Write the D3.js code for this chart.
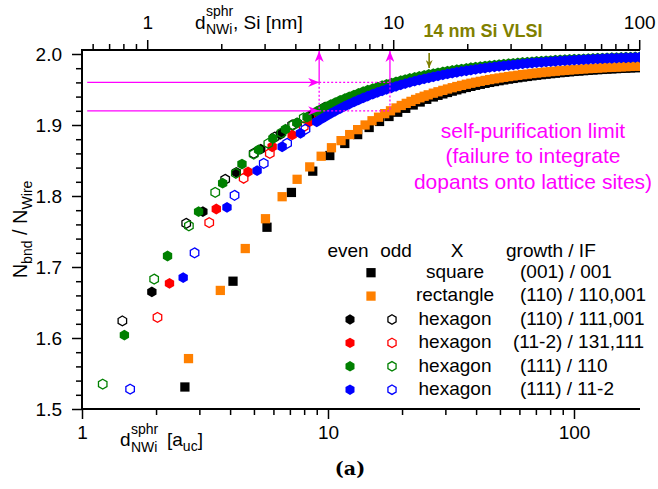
<!DOCTYPE html>
<html>
<head>
<meta charset="utf-8">
<script src="https://cdn.jsdelivr.net/npm/d3@7"></script>
<style>
  body { margin: 0; background: #fff; }
  svg { font-family: "Liberation Sans", Arial, sans-serif; }
</style>
</head>
<body>
<div id="chart"></div>
<script>
// Si lattice constant, used for the top axis (nm)
const A_UC = 0.5431

// ---- data: x = d_NWi^sphr [a_uc], y = N_bnd / N_Wire ----
// square, (001)/001, even sizes only
const squareEven = [[2.62,1.531],[4.11,1.680],[5.65,1.756],[7.10,1.805],[8.67,1.835],[10.17,1.857]]
const squareTailX = [11.7,13.2,14.7,16.2,17.7,19.2,20.7,22.2,23.7,25.2]
const squareTailY = [1.874,1.8865,1.8965,1.905,1.912,1.918,1.9235,1.9282,1.9324,1.9362]
// rectangle, (110)/110,001
const rectEven = [[2.71,1.571],[3.65,1.667],[4.61,1.726],[5.57,1.768],[6.51,1.799],[7.49,1.8235],[8.43,1.841],[9.38,1.856],[10.33,1.868]]
const rectTailX = [11.3,12.25,13.2,14.15,15.1,16.05,17.0,17.95,18.9,19.85,20.8,21.75,22.7,23.65,24.6,25.55]
const rectTailY = [1.878,1.8865,1.8935,1.9,1.906,1.911,1.916,1.92,1.924,1.9275,1.9305,1.9333,1.936,1.9383,1.9405,1.9425]

// hexagon (110)/111,001
const hexBlackEven = [[1.923,1.665],[3.10,1.778],[4.24,1.8334],[5.33,1.866],[6.41,1.887],[7.5,1.903],[8.6,1.915],[9.7,1.925]]
const hexBlackOdd = [[1.459,1.624],[2.652,1.7615],[3.82,1.8235],[4.99,1.860],[6.07,1.883],[7.15,1.900]]
// hexagon (11-2)/131,111
const hexRedEven = [[2.268,1.677],[3.515,1.7817],[4.73,1.834],[5.93,1.8694],[7.15,1.886],[8.37,1.904],[9.6,1.917],[10.8,1.926]]
const hexRedOdd = [[2.027,1.629],[3.29,1.7624],[4.54,1.825],[5.8,1.860],[7.97,1.8976],[9.2,1.913],[10.4,1.923]]
// hexagon (111)/110
const hexGreenEven = [[1.487,1.604],[2.227,1.7155],[2.978,1.778],[3.73,1.818],[4.47,1.845],[5.22,1.865],[5.97,1.881],[6.72,1.894],[7.47,1.903],[8.22,1.911]]
const hexGreenOdd = [[1.214,1.535],[1.965,1.683],[2.72,1.758],[3.48,1.805],[4.22,1.832],[4.99,1.859],[5.72,1.874],[6.47,1.889],[7.22,1.900],[7.97,1.910]]
// hexagon (111)/11-2
const hexBlueEven = [[2.578,1.685],[3.885,1.784],[5.15,1.8357],[6.51,1.8694],[7.73,1.8883]]
const hexBlueOdd = [[1.569,1.528],[2.868,1.720],[4.17,1.801],[5.48,1.846],[6.82,1.8742],[8.1,1.894]]

// dense part of the curves (markers merge into bands)
const hexTailX = [9,9.4,9.8,10.25,10.7,11.2,11.7,12.2,12.75,13.3,13.9,14.5,15.2,15.9,16.6,17.3,18.1,18.9,19.75,20.6,21.5,22.5,23.5,24.6,25.7]
const bigX = [26.8,28,29.3,30.6,32,33.4,34.9,36.5,38.1,39.8,41.6,43.5,45.4,47.5,49.6,51.8,54.2,56.6,59.1,61.8,64.6,67.5,70.5,73.7,77,80.4,84,87.8,91.8,95.9,100.2,104.7,109.4,114.3,119.5,124.8,130.5,136.3,142.5,148.9,155.6,162.6,169.9,177.5,185.5]
const greenTailY = [1.919,1.9225,1.9255,1.9285,1.9315,1.9345,1.9372,1.9397,1.9422,1.9445,1.9468,1.949,1.9513,1.9534,1.9554,1.9572,1.959,1.9608,1.9625,1.964,1.9655,1.967,1.9684,1.9698,1.9711,
  1.9723,1.9735,1.9747,1.9758,1.9768,1.9778,1.9788,1.9797,1.9806,1.9814,1.9822,1.983,1.9837,1.9844,1.9851,1.9857,1.9863,1.9869,1.9875,1.988,1.9885,1.989,1.9895,1.99,1.9904,1.9908,1.9912,1.9916,1.992,1.9923,1.9926,1.9929,1.9932,1.9935,1.9938,1.9941,1.9943,1.9946,1.9948,1.995,1.9952,1.9954,1.9956,1.9958,1.996]
const blueTailY = [1.9045,1.9085,1.9122,1.9161,1.9196,1.9232,1.9265,1.9295,1.9325,1.9353,1.9381,1.9407,1.9434,1.9459,1.9482,1.9503,1.9525,1.9545,1.9565,1.9583,1.96,1.9618,1.9634,1.965,1.9665,
  1.9679,1.9693,1.9706,1.9719,1.9731,1.9743,1.9754,1.9764,1.9774,1.9784,1.9793,1.9802,1.9811,1.9819,1.9827,1.9834,1.9841,1.9848,1.9854,1.9861,1.9867,1.9873,1.9878,1.9883,1.9888,1.9893,1.9898,1.9902,1.9906,1.991,1.9914,1.9918,1.9921,1.9925,1.9928,1.9931,1.9934,1.9937,1.994,1.9942,1.9945,1.9947,1.9949,1.9952,1.9954]
const rectBigY = [1.9448,1.9468,1.9488,1.9507,1.9525,1.9542,1.9558,1.9574,1.9588,1.9602,1.9615,1.9628,1.964,1.9651,1.9662,1.9672,1.9682,1.9691,1.97,1.9709,1.9717,1.9725,1.9732,1.9739,1.9746,1.9752,1.9758,1.9764,1.977,1.9775,1.978,1.9785,1.979,1.9794,1.9798,1.9802,1.9806,1.981,1.9813,1.9816,1.9819,1.9822,1.9825,1.9828,1.983]
const squareBigY = [1.9395,1.9418,1.9438,1.9458,1.9477,1.9495,1.9512,1.9529,1.9544,1.9559,1.9573,1.9587,1.96,1.9612,1.9624,1.9635,1.9646,1.9656,1.9666,1.9675,1.9684,1.9693,1.9701,1.9709,1.9716,1.9723,1.973,1.9737,1.9743,1.9749,1.9755,1.976,1.9765,1.977,1.9775,1.9779,1.9783,1.9787,1.9791,1.9794,1.9798,1.9801,1.9804,1.9807,1.981]

// legend texts
const shapeNames = ["square", "rectangle", "hexagon", "hexagon", "hexagon", "hexagon"]
const growthLabels = ["(001) / 001", "(110) / 110,001", "(110) / 111,001", "(11-2) / 131,111", "(111) / 110", "(111) / 11-2"]
const seriesColors = ["#000000", "#ff8000", "#000000", "#ff0000", "#008000", "#0000ff"]

// ticks
const yTicks = [1.5, 1.6, 1.7, 1.8, 1.9, 2.0]
const xTicks = [1, 10, 100]
const topTicks = [1, 10, 100]

// annotation values
const guideY = [1.96, 1.92]       // ratio levels
const guideNm = [5, 9.7]          // diameters in nm
const vlsiNm = 14
const noteLines = ["self-purification limit", "(failure to integrate", "dopants onto lattice sites)"]

// ---- chart ----
const width = 658
const height = 489
const pL = 82, pR = 640, pT = 50, pB = 409

const svg = d3.select("#chart")
    .append("svg")
    .attr("width", width)
    .attr("height", height)

const x = d3.scaleLog().domain([1, 185.5]).range([pL, pR])
const xTop = d3.scaleLog().domain([A_UC, 185.5 * A_UC]).range([pL, pR])
const y = d3.scaleLinear().domain([1.5, 2.0]).range([pB, 54])

const zip = (xs, ys) => xs.map((v, i) => [v, ys[i]])

function minorLog(domain) {
  let out = []
  for (let e = -1; e < 3; e++) {
    for (let k = 2; k < 10; k++) {
      let v = k * Math.pow(10, e)
      if (v >= domain[0] && v <= domain[1]) out.push(v)
    }
  }
  return out
}

const defs = svg.append("defs")
defs.append("clipPath").attr("id", "plotclip")
  .append("rect").attr("x", pL).attr("y", pT).attr("width", pR - pL).attr("height", pB - pT)

function arrowMarker(id, color, len, wid) {
  defs.append("marker")
    .attr("id", id)
    .attr("markerUnits", "userSpaceOnUse")
    .attr("markerWidth", len).attr("markerHeight", wid)
    .attr("refX", len).attr("refY", wid / 2)
    .attr("orient", "auto")
    .append("path")
    .attr("d", `M0,0 L${len},${wid / 2} L0,${wid} L${len * 0.3},${wid / 2} Z`)
    .attr("fill", color)
}
arrowMarker("arrM", "#ff00ff", 11, 9)
arrowMarker("arrO", "#808000", 8, 7)

// ---- series ----
const hexPath = r => {
  let p = []
  for (let k = 0; k < 6; k++) {
    let a = Math.PI / 3 * k - Math.PI / 2
    p.push([r * Math.cos(a), r * Math.sin(a)])
  }
  return "M" + p.map(q => q.join(",")).join("L") + "Z"
}
const squarePath = d3.symbol(d3.symbolSquare, 86)()

const plot = svg.append("g").attr("clip-path", "url(#plotclip)")

function drawSeries(pts, shape, color, filled) {
  plot.append("g")
    .selectAll("path")
    .data(pts)
    .join("path")
    .attr("transform", d => `translate(${x(d[0])},${y(d[1])})`)
    .attr("d", shape == "square" ? squarePath : hexPath(filled ? 5.4 : 4.9))
    .attr("fill", filled ? color : "none")
    .attr("stroke", filled ? "none" : color)
    .attr("stroke-width", 1.3)
}

drawSeries(squareEven.concat(zip(squareTailX, squareTailY), zip(bigX, squareBigY)), "square", seriesColors[0], true)
drawSeries(rectEven.concat(zip(rectTailX, rectTailY), zip(bigX, rectBigY)), "square", seriesColors[1], true)
drawSeries(hexBlackEven, "hex", seriesColors[2], true)
drawSeries(hexBlackOdd, "hex", seriesColors[2], false)
drawSeries(hexRedEven, "hex", seriesColors[3], true)
drawSeries(hexRedOdd, "hex", seriesColors[3], false)
drawSeries(hexGreenEven.concat(zip(hexTailX.concat(bigX), greenTailY)), "hex", seriesColors[4], true)
drawSeries(hexGreenOdd, "hex", seriesColors[4], false)
drawSeries(hexBlueEven.concat(zip(hexTailX.concat(bigX), blueTailY)), "hex", seriesColors[5], true)
drawSeries(hexBlueOdd, "hex", seriesColors[5], false)

// ---- axes ----
const fontSize = 19

const gBottom = svg.append("g").attr("transform", `translate(0,${pB})`)
gBottom.call(d3.axisBottom(x).tickValues(minorLog(x.domain())).tickFormat("").tickSize(6))
gBottom.call(g => g.select(".domain").remove())
const gBottomMaj = svg.append("g").attr("transform", `translate(0,${pB})`)
gBottomMaj.call(d3.axisBottom(x).tickValues(xTicks).tickFormat(d3.format("d")).tickSize(10).tickPadding(7))
gBottomMaj.call(g => g.select(".domain").remove())

const gTop = svg.append("g").attr("transform", `translate(0,${pT})`)
gTop.call(d3.axisTop(xTop).tickValues(minorLog(xTop.domain())).tickFormat("").tickSize(6))
gTop.call(g => g.select(".domain").remove())
const gTopMaj = svg.append("g").attr("transform", `translate(0,${pT})`)
gTopMaj.call(d3.axisTop(xTop).tickValues(topTicks).tickFormat(d3.format("d")).tickSize(10).tickPadding(11))
gTopMaj.call(g => g.select(".domain").remove())

const yMinor = d3.range(1.52, 2.0, 0.02).filter(v => Math.abs(v * 10 - Math.round(v * 10)) > 1e-6)
const gLeft = svg.append("g").attr("transform", `translate(${pL},0)`)
gLeft.call(d3.axisLeft(y).tickValues(yMinor).tickFormat("").tickSize(6))
gLeft.call(g => g.select(".domain").remove())
const gLeftMaj = svg.append("g").attr("transform", `translate(${pL},0)`)
gLeftMaj.call(d3.axisLeft(y).tickValues(yTicks).tickFormat(d3.format(".1f")).tickSize(10).tickPadding(10))
gLeftMaj.call(g => g.select(".domain").remove())

svg.selectAll(".tick line").attr("stroke", "#000").attr("stroke-width", 1.5)
svg.selectAll(".tick text").attr("fill", "#000").style("font-size", fontSize + "px")
  .style("font-family", '"Liberation Sans", Arial, sans-serif')

// frame lines (left, bottom, top)
svg.append("path")
  .attr("d", `M${pR},${pT} H${pL} V${pB} H${pR}`)
  .attr("fill", "none")
  .attr("stroke", "#000")
  .attr("stroke-width", 2)

// ---- axis titles ----
function txt(xp, yp, s, size, opts = {}) {
  return svg.append("text")
    .attr("x", xp).attr("y", yp)
    .attr("font-size", size)
    .attr("fill", opts.fill || "#000")
    .attr("text-anchor", opts.anchor || "start")
    .attr("font-weight", opts.weight || "normal")
    .text(s)
}

// top: d_NWi^sphr, Si [nm]
txt(195, 28.5, "d", fontSize)
txt(206, 16, "sphr", 14)
txt(206, 33.5, "NWi", 14)
txt(233, 28.5, ", Si [nm]", fontSize)

// bottom: d_NWi^sphr [a_uc]
txt(120, 446, "d", fontSize)
txt(131, 434, "sphr", 14)
txt(131, 451.5, "NWi", 14)
const bt = txt(167, 446, "[a", fontSize)
bt.append("tspan").attr("font-size", 14).attr("dy", 5).text("uc")
bt.append("tspan").attr("dy", -5).text("]")

// left: N_bnd / N_Wire
const yt = svg.append("text")
  .attr("transform", `translate(27,${(pT + pB) / 2}) rotate(-90)`)
  .attr("text-anchor", "middle")
  .attr("font-size", 20)
  .text("N")
yt.append("tspan").attr("font-size", 14).attr("dy", 5).text("bnd")
yt.append("tspan").attr("dy", -5).text(" / N")
yt.append("tspan").attr("font-size", 14).attr("dy", 5).text("Wire")

// ---- annotations ----
const magenta = "#ff00ff"
const gx0 = x(1.05)
const gxA = xTop(guideNm[0]), gxB = xTop(guideNm[1])
const gyA = y(guideY[0]), gyB = y(guideY[1])

guideY.forEach(v => {
  svg.append("line")
    .attr("x1", gx0).attr("x2", gxA)
    .attr("y1", y(v)).attr("y2", y(v))
    .attr("stroke", magenta).attr("stroke-width", 1.3)
    .attr("marker-end", "url(#arrM)")
})
guideNm.forEach(v => {
  svg.append("line")
    .attr("x1", xTop(v)).attr("x2", xTop(v))
    .attr("y1", gyA).attr("y2", pT + 1)
    .attr("stroke", magenta).attr("stroke-width", 1.3)
    .attr("marker-end", "url(#arrM)")
})
svg.append("rect")
  .attr("x", gxA).attr("y", gyA)
  .attr("width", gxB - gxA).attr("height", gyB - gyA)
  .attr("fill", "none")
  .attr("stroke", magenta).attr("stroke-width", 1.3)
  .attr("stroke-dasharray", "2,2")

// 14 nm arrow
svg.append("line")
  .attr("x1", xTop(vlsiNm)).attr("x2", xTop(vlsiNm))
  .attr("y1", pT + 3).attr("y2", pT + 18)
  .attr("stroke", "#808000").attr("stroke-width", 1.6)
  .attr("marker-end", "url(#arrO)")
txt(483, 37, "14 nm Si VLSI", 18, { fill: "#808000", anchor: "middle", weight: "bold" })

noteLines.forEach((s, i) => {
  txt(533, 137.5 + i * 25.5, s, 21, { fill: magenta, anchor: "middle" })
})

// ---- legend ----
const lg = svg.append("g")
txt(348, 257, "even", fontSize, { anchor: "middle" })
txt(396, 257, "odd", fontSize, { anchor: "middle" })
txt(457, 257, "X", fontSize, { anchor: "middle" })
txt(506, 257, "growth / IF", fontSize)

shapeNames.forEach((s, i) => {
  const by = 278 + i * 23.4
  const cy = by - 5.3
  const col = seriesColors[i]
  if (s == "hexagon") {
    lg.append("path").attr("transform", `translate(350,${cy})`).attr("d", hexPath(5.2)).attr("fill", col)
    lg.append("path").attr("transform", `translate(392,${cy})`).attr("d", hexPath(4.7))
      .attr("fill", "none").attr("stroke", col).attr("stroke-width", 1.3)
  } else {
    lg.append("path").attr("transform", `translate(371,${cy})`).attr("d", squarePath).attr("fill", col)
  }
  txt(455, by, s, fontSize, { anchor: "middle" })
  txt(growthLabels[i].startsWith("(11-2)") ? 513 : 520, by, growthLabels[i], fontSize)
})

// panel label
svg.append("text")
  .attr("x", 350).attr("y", 475)
  .attr("text-anchor", "middle")
  .attr("font-family", '"DejaVu Serif", serif')
  .attr("font-weight", "bold")
  .attr("font-size", 19)
  .text("(a)")
</script>
</body>
</html>
